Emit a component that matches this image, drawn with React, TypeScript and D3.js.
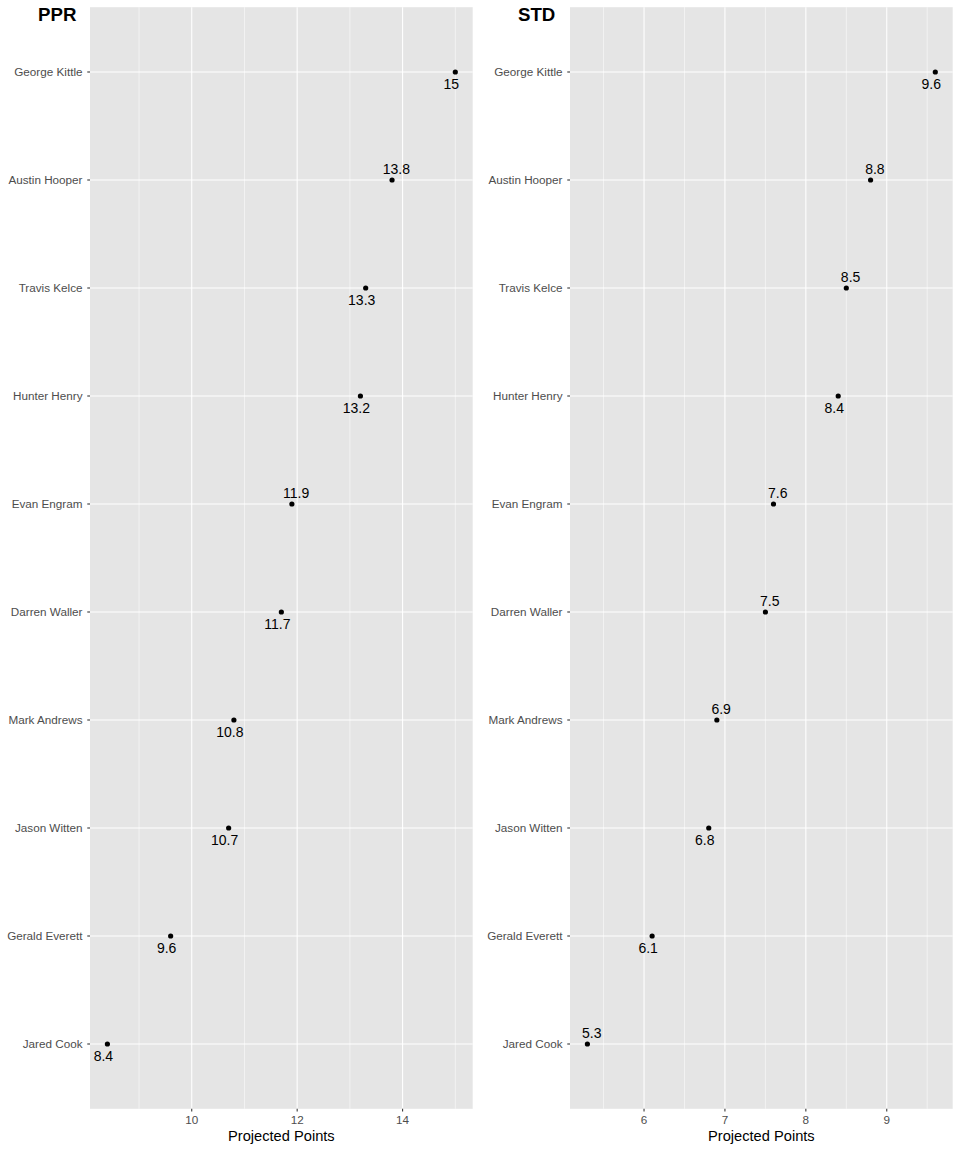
import React from "react";
import * as d3 from "d3";

const players = [
  "George Kittle",
  "Austin Hooper",
  "Travis Kelce",
  "Hunter Henry",
  "Evan Engram",
  "Darren Waller",
  "Mark Andrews",
  "Jason Witten",
  "Gerald Everett",
  "Jared Cook",
];
const pprValues = [15, 13.8, 13.3, 13.2, 11.9, 11.7, 10.8, 10.7, 9.6, 8.4];
const stdValues = [9.6, 8.8, 8.5, 8.4, 7.6, 7.5, 6.9, 6.8, 6.1, 5.3];
// label placement (repel direction): true = above-right, false = below-left
const pprLabelAbove = [false, true, false, false, true, false, false, false, false, false];
const stdLabelAbove = [false, true, true, false, true, true, true, false, false, true];
const pprTicks = [10, 12, 14];
const stdTicks = [6, 7, 8, 9];
const panelTitles = ["PPR", "STD"];
const axisTitle = "Projected Points";

const FONT = "'Liberation Sans', Arial, Helvetica, sans-serif";

function Panel({ offsetX, title, values, labelAbove, ticks }: any) {
  const left = 90;
  const right = 472.7;
  const top = 7.2;
  const bottom = 1108.8;
  const [mn, mx] = d3.extent(values) as [number, number];
  const pad = (mx - mn) * 0.05;
  const x = d3.scaleLinear().domain([mn - pad, mx + pad]).range([left, right]);
  const y = d3.scalePoint<string>().domain(players).range([top, bottom]).padding(0.6);
  const step = ticks[1] - ticks[0];
  const minor: number[] = [];
  for (let v = ticks[0] - step / 2; v <= mx + pad; v += step) {
    if (v >= mn - pad && !ticks.includes(v)) minor.push(v);
  }
  return (
    <g transform={`translate(${offsetX},0)`}>
      <rect x={left} y={top} width={right - left} height={bottom - top} fill="#E5E5E5" />
      {minor.map((v) => (
        <line key={"mn" + v} x1={x(v)} x2={x(v)} y1={top} y2={bottom} stroke="#fff" strokeWidth={0.53} />
      ))}
      {ticks.map((v: number) => (
        <line key={"mj" + v} x1={x(v)} x2={x(v)} y1={top} y2={bottom} stroke="#fff" strokeWidth={1.07} />
      ))}
      {players.map((p) => (
        <line key={"h" + p} x1={left} x2={right} y1={y(p)} y2={y(p)} stroke="#fff" strokeWidth={1.07} />
      ))}
      {players.map((p, i) => (
        <circle key={"pt" + p} cx={x(values[i])} cy={y(p)} r={2.6} fill="#000" />
      ))}
      {players.map((p, i) => {
        const above = labelAbove[i];
        const cx = x(values[i]) + (above ? 4.3 : -4);
        const by = (y(p) as number) + (above ? -6 : 17);
        return (
          <text key={"lb" + p} x={cx} y={by} textAnchor="middle" fontFamily={FONT} fontSize={14} fill="#000">
            {String(values[i])}
          </text>
        );
      })}
      {players.map((p) => (
        <g key={"yt" + p}>
          <line x1={left - 2.74} x2={left} y1={y(p)} y2={y(p)} stroke="#333" strokeWidth={1.07} />
          <text x={left - 7.5} y={(y(p) as number) + 4.2} textAnchor="end" fontFamily={FONT} fontSize={11.7} fill="#4D4D4D">
            {p}
          </text>
        </g>
      ))}
      {ticks.map((v: number) => (
        <g key={"xt" + v}>
          <line x1={x(v)} x2={x(v)} y1={bottom} y2={bottom + 2.74} stroke="#333" strokeWidth={1.07} />
          <text x={x(v)} y={bottom + 15.5} textAnchor="middle" fontFamily={FONT} fontSize={11.7} fill="#4D4D4D">
            {v}
          </text>
        </g>
      ))}
      <text x={(left + right) / 2} y={1141} textAnchor="middle" fontFamily={FONT} fontSize={14.67} fill="#000">
        {axisTitle}
      </text>
      <text x={38} y={21} fontFamily={FONT} fontSize={18.67} fontWeight="bold" fill="#000">
        {title}
      </text>
    </g>
  );
}

export default function App() {
  return (
    <svg width={960} height={1152} style={{ position: "absolute", left: 0, top: 0, background: "#fff" }}>
      <rect width={960} height={1152} fill="#fff" />
      <Panel offsetX={0} title={panelTitles[0]} values={pprValues} labelAbove={pprLabelAbove} ticks={pprTicks} />
      <Panel offsetX={480} title={panelTitles[1]} values={stdValues} labelAbove={stdLabelAbove} ticks={stdTicks} />
    </svg>
  );
}
